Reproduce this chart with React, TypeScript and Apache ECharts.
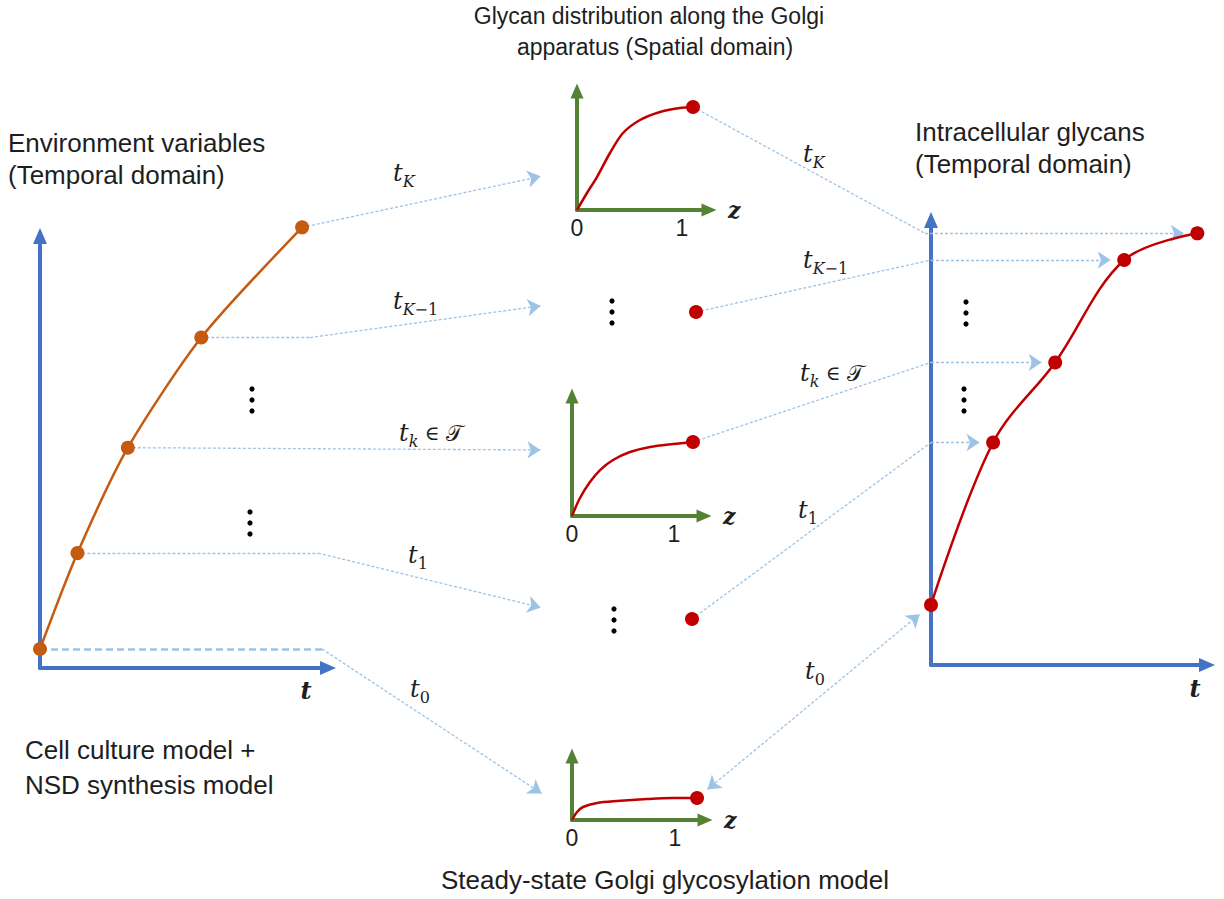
import React, { useEffect, useRef } from 'react';
import * as echarts from 'echarts';

// ---------------- data ----------------
// environment variables (left panel), one point per sampled time t0, t1, tk, tK-1, tK
const envTime = [0, 13, 30.5, 56, 91];
const envLevel = [4.4, 26.6, 51, 76.5, 102];
// intracellular glycans (right panel)
const glycanTime = [0, 22.5, 45, 70, 96.5];
const glycanLevel = [13.5, 50, 68, 91, 97];
// glycan profiles along the Golgi (z from 0 to 1)
const zTop = [0, 0.095, 0.19, 0.314, 0.438, 0.6, 0.79, 0.98, 1.105];
const profileTop = [0, 0.143, 0.277, 0.479, 0.647, 0.756, 0.824, 0.857, 0.866];
const zMid = [0, 0.078, 0.176, 0.275, 0.402, 0.569, 0.765, 0.99, 1.186];
const profileMid = [0, 0.15, 0.283, 0.383, 0.467, 0.533, 0.575, 0.6, 0.617];
const zBot = [0, 0.049, 0.107, 0.243, 0.437, 0.728, 0.98, 1.214];
const profileBot = [0, 0.125, 0.203, 0.266, 0.297, 0.328, 0.344, 0.344];
const zTickLabels: Record<number, string> = { 0: '0', 1: '1' };
// step labels (t0, t1, tk, tK-1, tK) as rich text
const stepLabels = [
  '{t|t}{n|0}',
  '{t|t}{n|1}',
  '{t|t}{s|k}{o| ∈ }{c|𝒯}',
  '{t|t}{s|K}{n|−1}',
  '{t|t}{s|K}',
];
const titleTexts = [
  'Environment variables',
  '(Temporal domain)',
  'Glycan distribution along the Golgi',
  'apparatus (Spatial domain)',
  'Intracellular glycans',
  '(Temporal domain)',
  'Cell culture model +',
  'NSD synthesis model',
  'Steady-state Golgi glycosylation model',
];

// ---------------- layout ----------------
const W = 1224;
const H = 899;
const gridBoxes = [
  { left: 40, top: 236, width: 288, height: 432 }, // environment
  { left: 577, top: 91, width: 132, height: 119 }, // top profile
  { left: 572, top: 396, width: 132, height: 120 }, // middle profile
  { left: 572, top: 756, width: 133, height: 64 }, // bottom profile
  { left: 931, top: 220, width: 276, height: 445 }, // glycans
  { left: 0, top: 0, width: W, height: H }, // overlay (pixel space)
];
const zUnitPx = [105, 102, 103];
const titlePos: [number, number, string, number][] = [
  [8, 143, 'left', 26],
  [8, 175, 'left', 26],
  [649, 16, 'center', 23],
  [655, 47, 'center', 23],
  [915, 132, 'left', 26],
  [915, 164, 'left', 26],
  [25, 750, 'left', 26],
  [25, 785, 'left', 26],
  [665, 880, 'center', 26],
];
const leftLabelPos = [[410, 689], [408, 555], [399, 433], [393, 301], [393, 173]];
const rightLabelPos = [[805, 671], [798, 510], [800, 373], [803, 260], [803, 154]];
const dotsPos = [[252, 400], [250, 523], [612, 312], [614, 620], [966, 313], [964, 400]];
const omittedEnds = [[692, 619], [696, 312]]; // end points of profiles not drawn (t1, tK-1)
const inArrowX = 547;
const inArrowY = [797, 609, 450, 305, 175];
const bendX: (number | null)[] = [322, 318, null, 310, null];

const BLUE = '#4472C4';
const GREEN = '#548235';
const ORANGE = '#C55A11';
const RED = '#C00000';
const LINK = '#9DC3E6';
const TEXT = '#1E1E1E';
const SANS = '"Liberation Sans", Arial, sans-serif';
const SERIF = '"DejaVu Serif", "Liberation Serif", serif';

function axisLine(color: string, size: number[]) {
  return {
    show: true,
    onZero: false,
    lineStyle: { color, width: 4 },
    symbol: ['none', 'triangle'],
    symbolSize: size,
  };
}

function baseAxis(gridIndex: number, max: number, color: string, size: number[]) {
  return {
    gridIndex,
    type: 'value',
    min: 0,
    max,
    axisLine: axisLine(color, size),
    axisTick: { show: false },
    axisLabel: { show: false },
    splitLine: { show: false },
  };
}

function zAxis(gridIndex: number, idx: number) {
  const max = gridBoxes[gridIndex].width / zUnitPx[idx];
  return {
    ...baseAxis(gridIndex, max, GREEN, [13, 15]),
    interval: 1,
    axisLabel: {
      show: true,
      formatter: (v: number) => zTickLabels[v] ?? '',
      fontSize: 23,
      fontFamily: SANS,
      color: TEXT,
      margin: 6,
    },
    name: 'z',
    nameLocation: 'end',
    nameGap: 19,
    nameTextStyle: {
      fontFamily: SERIF,
      fontStyle: 'italic',
      fontWeight: 'bold',
      fontSize: 22,
      color: TEXT,
    },
  };
}

const rich = {
  t: { fontFamily: SERIF, fontStyle: 'italic', fontSize: 24, fill: TEXT, color: TEXT, lineHeight: 32, verticalAlign: 'middle' },
  s: { fontFamily: SERIF, fontStyle: 'italic', fontSize: 16, fill: TEXT, color: TEXT, lineHeight: 17, verticalAlign: 'bottom' },
  n: { fontFamily: SERIF, fontSize: 16, fill: TEXT, color: TEXT, lineHeight: 17, verticalAlign: 'bottom' },
  o: { fontFamily: SERIF, fontSize: 20, fill: TEXT, color: TEXT, lineHeight: 32, verticalAlign: 'middle' },
  c: { fontFamily: '"DejaVu Serif", "DejaVu Sans", "Noto Sans CJK SC", serif', fontSize: 22, fill: TEXT, color: TEXT, lineHeight: 32, verticalAlign: 'middle' },
};

function textEl(text: string, x: number, y: number, align: string, extra: any = {}) {
  return {
    type: 'text',
    x,
    y,
    silent: true,
    style: {
      text,
      fill: TEXT,
      fontFamily: SANS,
      fontSize: 26,
      align,
      textAlign: align,
      verticalAlign: 'middle',
      textVerticalAlign: 'middle',
      ...extra,
    },
  };
}

function buildOption() {
  const pairs = (xs: number[], ys: number[]) => xs.map((x, i) => [x, ys[i]]);
  const profiles = [
    [zTop, profileTop],
    [zMid, profileMid],
    [zBot, profileBot],
  ];
  const graphic: any[] = [];
  titleTexts.forEach((t, i) =>
    graphic.push(textEl(t, titlePos[i][0], titlePos[i][1], titlePos[i][2], { fontSize: titlePos[i][3] })),
  );
  stepLabels.forEach((s, i) => {
    graphic.push(textEl(s, leftLabelPos[i][0], leftLabelPos[i][1], 'left', { rich }));
    graphic.push(textEl(s, rightLabelPos[i][0], rightLabelPos[i][1], 'left', { rich }));
  });
  const axisT = { fontFamily: SERIF, fontStyle: 'italic', fontWeight: 'bold', fontSize: 24 };
  graphic.push(textEl('t', 306, 690, 'center', axisT));
  graphic.push(textEl('t', 1195, 688, 'center', axisT));
  dotsPos.forEach(([cx, cy]) => {
    graphic.push({
      type: 'group',
      silent: true,
      children: [-11, 0, 11].map((d) => ({
        type: 'circle',
        shape: { cx, cy: cy + d, r: 2.6 },
        style: { fill: '#000' },
      })),
    });
  });

  const series: any[] = [
    {
      type: 'line',
      xAxisIndex: 0,
      yAxisIndex: 0,
      data: pairs(envTime, envLevel),
      smooth: 0.25,
      symbol: 'circle',
      symbolSize: 14,
      itemStyle: { color: ORANGE },
      lineStyle: { color: ORANGE, width: 2.5 },
      clip: false,
      z: 3,
    },
    {
      type: 'line',
      xAxisIndex: 4,
      yAxisIndex: 4,
      data: pairs(glycanTime, glycanLevel),
      smooth: 0.35,
      symbol: 'circle',
      symbolSize: 14,
      itemStyle: { color: RED },
      lineStyle: { color: RED, width: 2.5 },
      clip: false,
      z: 3,
    },
  ];
  profiles.forEach(([zs, ys], k) => {
    series.push({
      type: 'line',
      xAxisIndex: k + 1,
      yAxisIndex: k + 1,
      data: pairs(zs, ys),
      smooth: 0.3,
      symbol: 'none',
      lineStyle: { color: RED, width: 2.5 },
      clip: false,
      z: 3,
    });
    series.push({
      type: 'scatter',
      xAxisIndex: k + 1,
      yAxisIndex: k + 1,
      data: [[zs[zs.length - 1], ys[ys.length - 1]]],
      symbolSize: 14,
      itemStyle: { color: RED, opacity: 1 },
      clip: false,
      z: 4,
    });
  });
  series.push({
    type: 'scatter',
    xAxisIndex: 5,
    yAxisIndex: 5,
    data: omittedEnds,
    symbolSize: 14,
    itemStyle: { color: RED, opacity: 1 },
    z: 4,
  });

  return {
    animation: false,
    textStyle: { fontFamily: SANS },
    grid: gridBoxes.map((b) => ({ ...b, outerBoundsMode: 'none', containLabel: false })),
    xAxis: [
      baseAxis(0, 100, BLUE, [14, 16]),
      zAxis(1, 0),
      zAxis(2, 1),
      zAxis(3, 2),
      baseAxis(4, 100, BLUE, [14, 16]),
      { gridIndex: 5, type: 'value', min: 0, max: W, show: false },
    ],
    yAxis: [
      baseAxis(0, 100, BLUE, [14, 16]),
      baseAxis(1, 1, GREEN, [13, 15]),
      baseAxis(2, 1, GREEN, [13, 15]),
      baseAxis(3, 1, GREEN, [13, 15]),
      baseAxis(4, 100, BLUE, [14, 16]),
      { gridIndex: 5, type: 'value', min: 0, max: H, inverse: true, show: false },
    ],
    graphic,
    series,
  };
}

const ARROW = 13;

function shorten(a: number[], b: number[], dA: number, dB: number) {
  const dx = b[0] - a[0];
  const dy = b[1] - a[1];
  const L = Math.hypot(dx, dy) || 1;
  const ux = dx / L;
  const uy = dy / L;
  return [
    [a[0] + ux * dA, a[1] + uy * dA],
    [b[0] - ux * dB, b[1] - uy * dB],
  ];
}

function buildConnectors(chart: any) {
  const P = (g: number, x: number, y: number) => chart.convertToPixel({ gridIndex: g }, [x, y]) as number[];
  const env = envTime.map((t, i) => P(0, t, envLevel[i]));
  const gly = glycanTime.map((t, i) => P(4, t, glycanLevel[i]));
  const axisX = P(4, 0, 0)[0];
  const topEnd = P(1, zTop[zTop.length - 1], profileTop[profileTop.length - 1]);
  const midEnd = P(2, zMid[zMid.length - 1], profileMid[profileMid.length - 1]);
  const botEnd = P(3, zBot[zBot.length - 1], profileBot[profileBot.length - 1]);
  const ends = [botEnd, omittedEnds[0], midEnd, omittedEnds[1], topEnd];

  const plain: any[] = [];
  const thick: any[] = [];
  const arrows: any[] = [];
  const both: any[] = [];

  env.forEach((p, i) => {
    const tip = [inArrowX, inArrowY[i]];
    let from = p;
    if (bendX[i] != null) {
      const bend = [bendX[i] as number, p[1]];
      (i === 0 ? thick : plain).push({ coords: [p, bend] });
      from = bend;
    }
    arrows.push({ coords: shorten(from, tip, 0, ARROW / 2) });
  });

  gly.forEach((g, i) => {
    if (i === 0) {
      both.push({ coords: shorten(ends[0], g, 7 + ARROW / 2, 8 + ARROW / 2) });
      return;
    }
    const corner = [axisX - (i === 4 ? 6 : 0), g[1]];
    plain.push({ coords: [ends[i], corner] });
    arrows.push({ coords: shorten(corner, g, 0, 7 + ARROW / 2) });
  });

  const common = {
    type: 'lines',
    coordinateSystem: 'cartesian2d',
    xAxisIndex: 5,
    yAxisIndex: 5,
    silent: true,
    z: 1,
  };
  const thin = { color: LINK, width: 1.3, type: [3, 2], opacity: 1 };
  return [
    { ...common, data: plain, symbol: ['none', 'none'], lineStyle: thin },
    { ...common, data: thick, symbol: ['none', 'none'], lineStyle: { color: LINK, width: 2.5, type: [7, 4], opacity: 1 } },
    { ...common, data: arrows, symbol: ['none', 'arrow'], symbolSize: ARROW, lineStyle: thin },
    { ...common, data: both, symbol: ['arrow', 'arrow'], symbolSize: ARROW, lineStyle: thin },
  ];
}

export default function App() {
  const ref = useRef<HTMLDivElement>(null);
  useEffect(() => {
    document.body.style.margin = '0';
    const chart = echarts.init(ref.current as HTMLDivElement, null, { renderer: 'svg' });
    const option: any = buildOption();
    chart.setOption(option);
    const connectors = buildConnectors(chart);
    chart.setOption({ series: [...option.series, ...connectors] });
    return () => chart.dispose();
  }, []);
  return <div ref={ref} style={{ width: W, height: H, background: '#fff' }} />;
}
